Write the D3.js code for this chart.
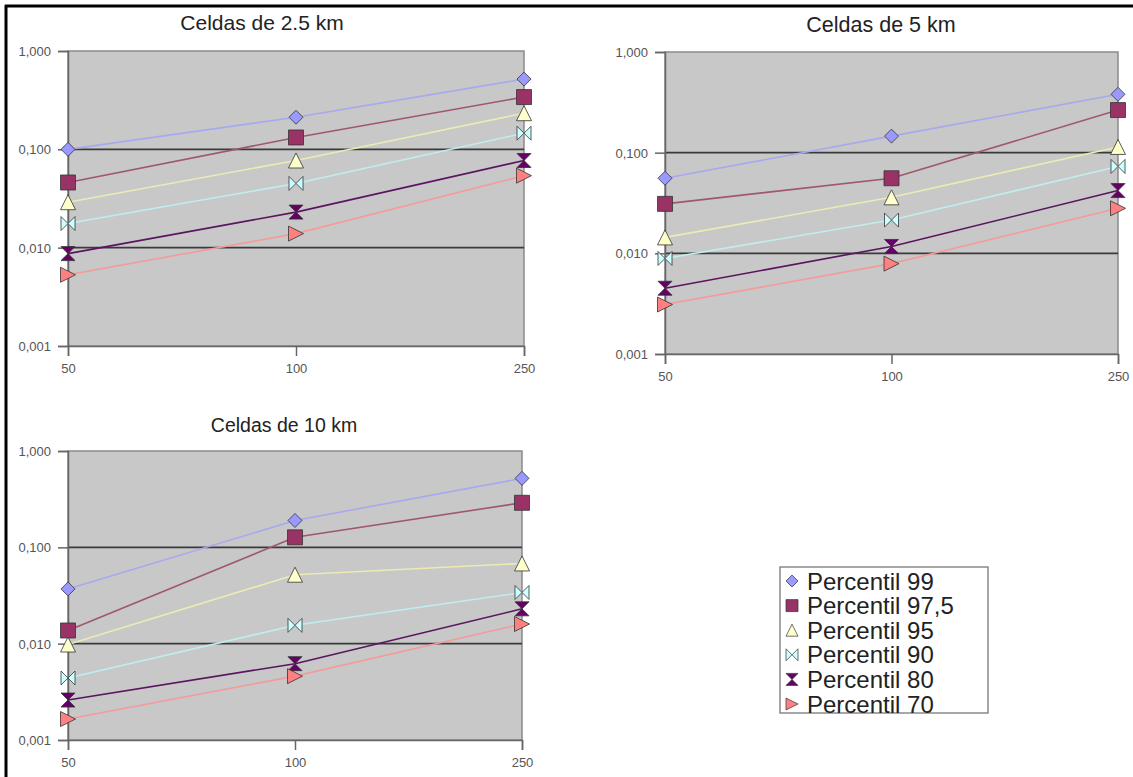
<!DOCTYPE html>
<html>
<head>
<meta charset="utf-8">
<script src="https://cdn.jsdelivr.net/npm/d3@7"></script>
<style>
  body { margin: 0; background: #fff; }
  svg { display: block; font-family: Arial, "Liberation Sans", sans-serif; }
</style>
</head>
<body>
<script>
// categories on the x axis and decades on the y axis
var xCategories = ["50", "100", "250"];
var yTicks = [1, 0.1, 0.01, 0.001];

var seriesNames = ["Percentil 99", "Percentil 97,5", "Percentil 95", "Percentil 90", "Percentil 80", "Percentil 70"];
var panelTitles = ["Celdas de 2.5 km", "Celdas de 5 km", "Celdas de 10 km"];

// one row per series (99, 97.5, 95, 90, 80, 70), values at 50 / 100 / 250
var celdas25 = [
  [0.100, 0.212, 0.518],
  [0.046, 0.132, 0.340],
  [0.029, 0.077, 0.233],
  [0.0176, 0.045, 0.146],
  [0.0087, 0.023, 0.077],
  [0.0053, 0.0139, 0.054]
];
var celdas5 = [
  [0.0557, 0.146, 0.380],
  [0.031, 0.0557, 0.265],
  [0.0144, 0.036, 0.114],
  [0.0089, 0.0214, 0.073],
  [0.0045, 0.0117, 0.042],
  [0.0031, 0.0079, 0.028]
];
var celdas10 = [
  [0.037, 0.190, 0.520],
  [0.0137, 0.127, 0.290],
  [0.0098, 0.052, 0.068],
  [0.0044, 0.0155, 0.034],
  [0.0026, 0.0062, 0.023],
  [0.00165, 0.0046, 0.016]
];

// marker / line styles, excel 2003 look
var markerFill = ["#9999ff", "#993366", "#ffffcc", "#ccffff", "#660066", "#ff8080"];
var lineColor = ["#a8a8f0", "#a0566f", "#ecebb4", "#bfeeee", "#5a1460", "#f59a9a"];
var markerType = ["diamond", "square", "triangle", "bowtie", "hourglass", "arrow"];

var panels = [
  {data: celdas25, title: panelTitles[0], left: 68, right: 524, top: 51, bottom: 346, titleX: 262, titleY: 30, titleSize: 21},
  {data: celdas5, title: panelTitles[1], left: 665, right: 1118, top: 52, bottom: 354, titleX: 881, titleY: 32, titleSize: 21.5},
  {data: celdas10, title: panelTitles[2], left: 68, right: 522, top: 451, bottom: 740, titleX: 284, titleY: 432, titleSize: 19.5}
];

var svg = d3.select("body").append("svg")
  .attr("width", 1133)
  .attr("height", 777);

// outer frame (only top and left edges show)
svg.append("line").attr("x1", 5).attr("y1", 6).attr("x2", 1133).attr("y2", 6)
  .attr("stroke", "#000").attr("stroke-width", 3);
svg.append("line").attr("x1", 6).attr("y1", 5).attr("x2", 6).attr("y2", 777)
  .attr("stroke", "#000").attr("stroke-width", 3);

// marker path for a given shape, centered on 0,0
function markerPath(type, s) {
  var h = s / 2;
  if (type == "diamond") return "M0," + (-h) + "L" + h + ",0L0," + h + "L" + (-h) + ",0Z";
  if (type == "square") return "M" + (-h) + "," + (-h) + "h" + s + "v" + s + "h" + (-s) + "Z";
  if (type == "triangle") return "M0," + (-h) + "L" + h + "," + h + "L" + (-h) + "," + h + "Z";
  if (type == "bowtie") return "M" + (-h) + "," + (-h) + "L0,0L" + (-h) + "," + h + "Z" +
                               "M" + h + "," + (-h) + "L0,0L" + h + "," + h + "Z";
  if (type == "hourglass") return "M" + (-h) + "," + (-h) + "L" + h + "," + (-h) + "L0,0Z" +
                                  "M" + (-h) + "," + h + "L" + h + "," + h + "L0,0Z";
  return "M" + (-h) + "," + (-h) + "L" + h + ",0L" + (-h) + "," + h + "Z";
}

var markerSize = [14, 15, 15, 14, 14, 15];

function drawPanel(p) {
  var g = svg.append("g");

  var x = d3.scalePoint()
    .domain(xCategories)
    .range([p.left, p.right])
    .padding(0);

  var y = d3.scaleLog()
    .domain([0.001, 1])
    .range([p.bottom, p.top]);

  // plot area
  g.append("rect")
    .attr("x", p.left).attr("y", p.top)
    .attr("width", p.right - p.left).attr("height", p.bottom - p.top)
    .attr("fill", "#c8c8c8")
    .attr("stroke", "#8a8a8a")
    .attr("stroke-width", 1.5);

  // major gridlines
  g.selectAll(".grid")
    .data([0.1, 0.01])
    .enter()
    .append("line")
    .attr("x1", p.left).attr("x2", p.right)
    .attr("y1", function(d) { return y(d); })
    .attr("y2", function(d) { return y(d); })
    .attr("stroke", "#3a3a3a")
    .attr("stroke-width", 1.6);

  // y axis
  var yAxis = g.append("g")
    .attr("transform", "translate(" + p.left + ",0)")
    .call(d3.axisLeft(y).tickValues(yTicks).tickSize(10).tickPadding(7)
      .tickFormat(function(d) { return d3.format(".3f")(d).replace(".", ","); }));
  yAxis.select(".domain").attr("stroke", "#666").attr("stroke-width", 1.5);
  yAxis.selectAll("line").attr("stroke", "#666").attr("stroke-width", 1.5);
  yAxis.selectAll("text").attr("fill", "#555").style("font-size", "13px").attr("dy", "0.35em");

  // x axis
  var xAxis = g.append("g")
    .attr("transform", "translate(0," + p.bottom + ")")
    .call(d3.axisBottom(x).tickSize(10).tickPadding(8));
  xAxis.select(".domain").attr("stroke", "#666").attr("stroke-width", 1.5);
  xAxis.selectAll("line").attr("stroke", "#666").attr("stroke-width", 1.5);
  xAxis.selectAll("text").attr("fill", "#555").style("font-size", "13px");

  // title
  g.append("text")
    .attr("x", p.titleX)
    .attr("y", p.titleY)
    .attr("text-anchor", "middle")
    .style("font-size", p.titleSize + "px")
    .attr("fill", "#222")
    .text(p.title);

  var line = d3.line()
    .x(function(d, i) { return x(xCategories[i]); })
    .y(function(d) { return y(d); });

  // lines first, then markers on top
  p.data.forEach(function(values, s) {
    g.append("path")
      .datum(values)
      .attr("d", line)
      .attr("fill", "none")
      .attr("stroke", lineColor[s])
      .attr("stroke-width", 1.6);
  });

  p.data.forEach(function(values, s) {
    g.selectAll(".m" + s)
      .data(values)
      .enter()
      .append("path")
      .attr("transform", function(d, i) {
        return "translate(" + x(xCategories[i]) + "," + y(d) + ")";
      })
      .attr("d", markerPath(markerType[s], markerSize[s]))
      .attr("fill", markerFill[s])
      .attr("stroke", "#333")
      .attr("stroke-width", 0.8);
  });
}

panels.forEach(drawPanel);

// legend
var legend = svg.append("g");
legend.append("rect")
  .attr("x", 780).attr("y", 567)
  .attr("width", 208).attr("height", 146)
  .attr("fill", "#fff")
  .attr("stroke", "#8a8a8a")
  .attr("stroke-width", 1.5);

seriesNames.forEach(function(name, s) {
  var cy = 581 + s * 24.6;
  legend.append("path")
    .attr("transform", "translate(792," + cy + ")")
    .attr("d", markerPath(markerType[s], 12))
    .attr("fill", markerFill[s])
    .attr("stroke", "#333")
    .attr("stroke-width", 0.7);
  legend.append("text")
    .attr("x", 807)
    .attr("y", cy + 8.5)
    .style("font-size", "24px")
    .attr("fill", "#222")
    .text(name);
});
</script>
</body>
</html>
